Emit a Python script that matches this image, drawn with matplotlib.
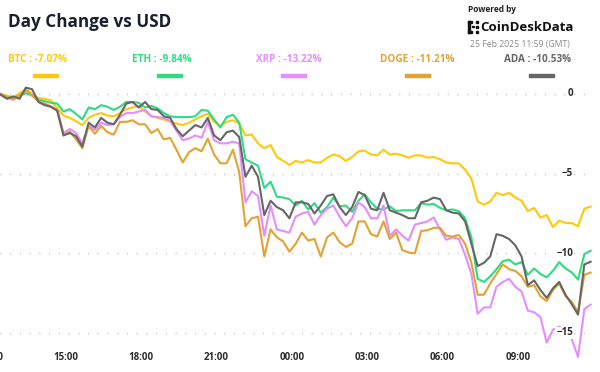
import pandas as pd
import numpy as np
import matplotlib
matplotlib.use("Agg")
import matplotlib.pyplot as plt
from matplotlib.patches import Rectangle

plt.rcParams["font.family"] = ["Open Sans", "DejaVu Sans"]

# 15 minute samples, % change vs USD
times = pd.date_range("2025-02-24 12:24", periods=95, freq="15min")

btc = [0.0, -0.1, -0.2, 0.05, 0.3, 0.0, -0.25, -0.3, -0.4, -0.9,
       -1.35, -1.5, -1.7, -1.95, -1.5, -1.3, -1.2, -1.35, -1.4, -1.2,
       -0.95, -0.85, -0.75, -1.1, -1.4, -1.5, -1.6, -1.75, -1.85, -1.95,
       -1.8, -1.6, -1.4, -1.25, -1.75, -2.0, -1.75, -1.65, -1.85, -2.6,
       -2.55, -3.1, -3.4, -3.2, -3.95, -4.2, -4.45, -4.2, -4.3, -4.15,
       -4.3, -4.3, -4.0, -3.8, -3.9, -4.2, -3.95, -3.6, -3.55, -3.8,
       -3.85, -3.5, -3.8, -3.75, -3.85, -4.0, -3.85, -3.85, -4.0, -3.95,
       -4.1, -4.3, -4.35, -4.35, -4.75, -5.3, -6.75, -6.95, -6.75, -6.2,
       -6.35, -6.2, -6.5, -6.7, -7.35, -7.15, -7.75, -7.6, -8.35, -7.95,
       -8.1, -8.1, -8.3, -7.2, -7.07]

eth = [0.0, -0.2, -0.25, -0.1, 0.05, -0.1, -0.35, -0.45, -0.55, -0.6,
       -1.1, -0.95, -1.25, -1.6, -0.85, -0.95, -0.7, -0.8, -1.0, -0.8,
       -0.5, -0.5, -0.55, -0.85, -0.75, -0.9, -1.2, -1.4, -1.45, -1.45,
       -1.45, -1.4, -1.0, -1.05, -1.6, -2.1, -1.45, -1.3, -1.8, -4.1,
       -4.3, -4.5, -5.9, -5.5, -6.45, -6.5, -6.6, -7.0, -6.7, -7.25,
       -6.85, -7.45, -7.1, -6.5, -7.05, -7.0, -7.4, -6.7, -6.3, -6.8,
       -7.2, -7.25, -7.05, -7.35, -7.3, -7.3, -7.3, -6.85, -6.95, -6.9,
       -7.15, -7.3, -7.25, -7.35, -7.8, -9.0, -11.6, -11.8, -11.45, -11.0,
       -10.5, -10.4, -10.7, -10.55, -11.35, -10.95, -11.3, -11.5, -11.1, -10.55,
       -10.95, -11.2, -11.65, -10.05, -9.84]

xrp = [0.0, -0.2, -0.35, -0.1, 0.25, -0.1, -0.45, -0.6, -0.8, -1.0,
       -2.45, -2.2, -2.45, -3.1, -2.0, -2.25, -1.8, -1.95, -1.9, -1.45,
       -1.2, -1.2, -1.1, -1.0, -1.4, -1.45, -1.5, -1.7, -2.3, -2.9,
       -2.8, -2.6, -2.75, -1.75, -2.9, -3.1, -3.1, -3.0, -3.1, -6.8,
       -6.1, -6.4, -8.9, -7.0, -8.5, -8.6, -8.7, -7.7, -7.5, -7.4,
       -8.2, -7.6, -7.2, -7.0, -7.7, -8.3, -7.8, -6.8, -7.1, -7.8,
       -7.8, -7.0, -8.9, -8.5, -8.9, -9.2, -8.2, -8.1, -8.0, -7.75,
       -8.5, -9.15, -9.0, -9.1, -10.1, -11.3, -13.8, -13.4, -13.4, -12.1,
       -11.8, -11.6, -12.1, -12.4, -13.6, -13.7, -14.0, -15.6, -14.8, -14.6,
       -14.9, -15.4, -16.5, -13.5, -13.22]

doge = [0.0, -0.2, -0.35, -0.1, 0.25, -0.1, -0.45, -0.6, -0.8, -1.0,
        -2.6, -2.35, -2.85, -3.4, -2.0, -2.5, -2.0, -2.4, -2.55, -1.75,
        -1.75, -1.65, -1.9, -1.9, -2.45, -2.2, -2.85, -2.75, -3.5, -4.3,
        -3.65, -3.4, -3.6, -2.8, -3.8, -4.35, -4.35, -3.5, -4.9, -8.3,
        -7.8, -7.7, -10.2, -8.5, -9.0, -9.25, -9.9, -9.4, -8.7, -9.2,
        -9.1, -10.2, -9.0, -8.7, -9.3, -9.6, -9.4, -8.0, -8.0, -8.8,
        -8.95, -8.0, -9.1, -8.7, -9.8, -9.95, -10.0, -8.6, -8.55, -8.4,
        -8.4, -8.9, -8.95, -8.85, -9.4, -10.6, -12.6, -12.6, -11.9, -11.3,
        -10.7, -11.0, -11.1, -11.45, -12.1, -12.0, -12.7, -13.0, -12.3, -11.9,
        -12.7, -13.05, -13.7, -11.35, -11.21]

ada = [-0.05, -0.3, -0.15, -0.3, 0.4, 0.3, -0.5, -0.7, -0.8, -1.05,
       -2.6, -2.45, -2.65, -3.3, -1.8, -2.1, -1.5, -1.8, -1.9, -1.3,
       -0.6, -0.5, -0.85, -0.5, -0.95, -1.0, -1.4, -1.5, -2.2, -2.65,
       -2.3, -1.95, -2.1, -1.5, -2.6, -2.9, -2.4, -2.3, -2.7, -5.2,
       -4.5, -5.2, -7.6, -6.7, -7.1, -7.3, -7.8, -6.8, -6.8, -6.9,
       -7.5, -7.0, -6.4, -6.3, -7.1, -7.6, -7.1, -6.15, -6.35, -7.2,
       -7.3, -6.2, -7.3, -7.45, -7.6, -7.8, -7.8, -6.8, -6.7, -6.5,
       -6.6, -7.3, -7.45, -7.5, -8.0, -9.4, -10.8, -10.6, -10.2, -8.8,
       -8.9, -9.1, -9.5, -10.2, -12.0, -11.7, -12.3, -12.8, -12.2, -11.8,
       -12.6, -13.2, -13.85, -10.7, -10.53]

names = ["BTC", "ETH", "XRP", "DOGE", "ADA"]
colors = ["#FFC90A", "#2EDB83", "#E48DFF", "#E3A232", "#666666"]
series = [btc, eth, xrp, doge, ada]

yticks = [0, -5, -10, -15]
xtick_hours = [0, 3, 6, 9, 12, 15, 18, 21]
xtick_labels = ["12:00", "15:00", "18:00", "21:00", "00:00", "03:00", "06:00", "09:00"]

hrs = (times - pd.Timestamp("2025-02-24 12:00")).total_seconds() / 3600

W, H = 600, 372
fig = plt.figure(figsize=(6, 3.72), dpi=100)

def fx(x):
    return x / W

def fy(y):
    return 1 - y / H

# axes area in pixels: x 0..600, y 84..350
ax = fig.add_axes([0, fy(350), 1, (350 - 84) / H])
px_per_h = 25.1
x0 = 0.37
ax.set_xlim(x0, x0 + W / px_per_h)
ppu = 15.93
ax.set_ylim(-(350 - 94) / ppu, (94 - 84) / ppu)
for s in ax.spines.values():
    s.set_visible(False)
ax.set_xticks([])
ax.set_yticks([])

for v in yticks:
    ax.axhline(v, xmin=0, xmax=585 / W, color="#bdbdbd", lw=1,
               ls=(0, (0.8, 6.2)), zorder=1)
    lab = "0" if v == 0 else "\u2212" + str(abs(v))
    ax.text(573 / W, v, lab, transform=ax.get_yaxis_transform(),
            ha="right", va="center", fontsize=7, fontweight="bold",
            color="#2b2b2b", zorder=4,
            bbox=dict(fc="white", ec="none", pad=0.6))

# 12:00 sits half off the left edge, like the source
for h, lab in zip(xtick_hours, xtick_labels):
    ax.text(h, -(358 - 94) / ppu, lab, ha="center", va="center",
            fontsize=7, fontweight="bold", color="#2b2b2b", clip_on=False)

for name, c, vals in zip(names, colors, series):
    ax.plot(hrs, vals, color=c, lw=1.5, zorder=3, clip_on=False,
            solid_joinstyle="round")

# title
fig.text(fx(8), fy(22), "Day Change vs USD", fontsize=12.3, fontweight="bold",
         color="#18202e", ha="left", va="center")

# legend
for i, (name, c, vals) in enumerate(zip(names, colors, series)):
    fig.text(fx(8 + 124 * i), fy(60), f"{name} : {vals[-1]:.2f}%",
             fontsize=7.2, fontweight="bold", color=c, ha="left", va="center")
    fig.patches.append(Rectangle((fx(33 + 124 * i), fy(76.5)), fx(25), 3 / H,
                                 transform=fig.transFigure, color=c))

# branding
fig.text(fx(468), fy(10), "Powered by", fontsize=6, fontweight="bold",
         color="#222222", ha="left", va="center")
for (bx, by, bw, bh) in [(468, 21, 1.6, 12), (468, 21, 4, 1.6), (468, 31.4, 4, 1.6),
                         (472, 25.5, 1.6, 1.6), (476, 21, 1.6, 1.6), (476, 26, 1.6, 1.6),
                         (476, 31.4, 1.6, 1.6)]:
    fig.patches.append(Rectangle((fx(bx), fy(by + bh)), bw / W, bh / H,
                                 transform=fig.transFigure, color="#111111"))
fig.text(fx(480), fy(27.5), "CoinDeskData", fontsize=9.5, fontweight="bold",
         color="#111111", ha="left", va="center")
fig.text(fx(470), fy(44), "25 Feb 2025 11:59 (GMT)", fontsize=6.2,
         color="#8a8a8a", ha="left", va="center")

fig.savefig("out.png", dpi=100)
